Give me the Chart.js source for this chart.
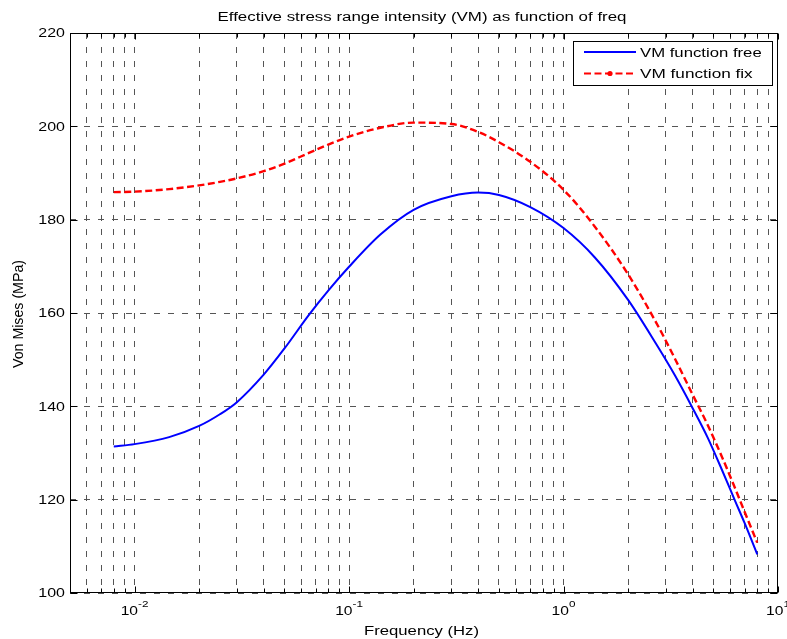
<!DOCTYPE html>
<html>
<head>
<meta charset="utf-8">
<script src="https://cdn.jsdelivr.net/npm/chart.js@4/dist/chart.umd.min.js"></script>
<style>
  html, body { margin: 0; padding: 0; background: #fff; }
  #wrap { width: 787px; height: 639px; position: relative; }
</style>
</head>
<body>
<div id="wrap"><canvas id="c" width="787" height="639"></canvas></div>
<script>
// ---- data ----
const freq   = [0.008, 0.01, 0.0145, 0.02, 0.025, 0.03, 0.04, 0.05, 0.065, 0.08, 0.1, 0.14, 0.2, 0.3, 0.4, 0.5, 0.7, 1, 1.4, 2, 2.7, 3.3, 4, 4.7, 5.5, 6.3, 7, 8];
const vmFree = [131.4, 131.9, 133.4, 135.8, 138.3, 140.9, 146.8, 152.4, 159.6, 164.8, 169.9, 176.8, 182.1, 185.0, 185.8, 185.3, 182.7, 178.2, 171.9, 162.8, 153.4, 146.7, 139.6, 133.3, 126.2, 119.8, 114.9, 108.3];
const vmFix  = [185.9, 186.0, 186.55, 187.35, 188.1, 188.85, 190.4, 192.0, 194.3, 196.1, 197.8, 199.7, 200.8, 200.5, 198.8, 196.6, 192.4, 186.4, 178.5, 168.3, 158.0, 150.3, 142.5, 136.0, 129.0, 122.5, 117.3, 110.8];

const xGrid = [0.006,0.007,0.008,0.009,0.01,0.02,0.03,0.04,0.05,0.06,0.07,0.08,0.09,0.1,0.2,0.3,0.4,0.5,0.6,0.7,0.8,0.9,1,2,3,4,5,6,7,8,9];
const xMajor = [0.01, 0.1, 1, 10];
const xMajorExp = ['-2', '-1', '0', '1'];
const yTicks = [100, 120, 140, 160, 180, 200, 220];
const seriesNames = ['VM function free', 'VM function fix'];

const FONT = '"Liberation Sans", Arial, Helvetica, sans-serif';

function stretchedText(ctx, txt, x, y, size, align, targetW, sxDefault) {
  ctx.save();
  ctx.font = size + 'px ' + FONT;
  const w = ctx.measureText(txt).width;
  const sx = targetW ? targetW / w : (sxDefault || 1.35);
  ctx.translate(x, y);
  ctx.scale(sx, 1);
  ctx.textAlign = align;
  ctx.textBaseline = 'alphabetic';
  ctx.fillStyle = '#000';
  ctx.fillText(txt, 0, 0);
  ctx.restore();
  return w * sx;
}

const matlabDecor = {
  id: 'matlabDecor',
  afterDraw(chart) {
    const ctx = chart.ctx;
    const a = chart.chartArea;
    const xs = chart.scales.x, ys = chart.scales.y;
    const L = Math.round(a.left) + 0.5, R = Math.round(a.right) - 0.5;
    const T = Math.round(a.top) + 0.5, B = Math.round(a.bottom) - 0.5;

    ctx.save();
    ctx.strokeStyle = '#000';
    ctx.lineWidth = 1;
    ctx.setLineDash([]);
    // ticks (inward)
    ctx.beginPath();
    xGrid.concat([10]).forEach(v => {
      const px = Math.round(xs.getPixelForValue(v)) + 0.5;
      const len = xMajor.includes(v) ? 6 : 4;
      ctx.moveTo(px, B); ctx.lineTo(px, B - len);
      ctx.moveTo(px, T); ctx.lineTo(px, T + len);
    });
    yTicks.forEach(v => {
      const py = Math.round(ys.getPixelForValue(v)) + 0.5;
      ctx.moveTo(L, py); ctx.lineTo(L + 7, py);
      ctx.moveTo(R, py); ctx.lineTo(R - 7, py);
    });
    ctx.stroke();
    // axes box
    ctx.strokeRect(L, T, R - L, B - T);
    ctx.restore();

    // y tick labels
    yTicks.forEach(v => {
      const py = ys.getPixelForValue(v);
      stretchedText(ctx, String(v), a.left - 5, py + 4.3, 12, 'right', null, 1.33);
    });
    // x tick labels (10^n)
    xMajor.forEach((v, i) => {
      const px = xs.getPixelForValue(v);
      ctx.save();
      ctx.font = '12px ' + FONT;
      const w1 = ctx.measureText('10').width * 1.3;
      ctx.font = '9px ' + FONT;
      const w2 = ctx.measureText(xMajorExp[i]).width * 1.3;
      ctx.restore();
      const x0 = px - (w1 + w2) / 2;
      stretchedText(ctx, '10', x0, 614.5, 12, 'left', null, 1.3);
      stretchedText(ctx, xMajorExp[i], x0 + w1, 607, 9, 'left', null, 1.3);
    });

    // title
    stretchedText(ctx, 'Effective stress range intensity (VM) as function of freq', 422, 21, 12.5, 'center', 409);
    // x axis title
    stretchedText(ctx, 'Frequency (Hz)', 421.5, 635, 12.5, 'center', 115);
    // y axis title (rotated)
    ctx.save();
    ctx.translate(23, 314);
    ctx.scale(1.15, 1);
    ctx.rotate(-Math.PI / 2);
    ctx.font = '13px ' + FONT;
    const wy = ctx.measureText('Von Mises (MPa)').width;
    ctx.scale(108 / wy, 1);
    ctx.textAlign = 'center';
    ctx.fillStyle = '#000';
    ctx.fillText('Von Mises (MPa)', 0, 0);
    ctx.restore();

    // legend
    ctx.save();
    const bx = 573.5, by = 41.5, bw = 199, bh = 44;
    ctx.fillStyle = '#fff';
    ctx.fillRect(bx, by, bw, bh);
    ctx.strokeStyle = '#000';
    ctx.lineWidth = 1;
    ctx.strokeRect(bx, by, bw, bh);
    ctx.strokeStyle = '#0000ff';
    ctx.lineWidth = 2;
    ctx.beginPath(); ctx.moveTo(584, 52); ctx.lineTo(636, 52); ctx.stroke();
    ctx.strokeStyle = '#ff0000';
    ctx.setLineDash([7, 3.5]);
    ctx.beginPath(); ctx.moveTo(584, 73.5); ctx.lineTo(636, 73.5); ctx.stroke();
    ctx.setLineDash([]);
    ctx.fillStyle = '#ff0000';
    ctx.beginPath(); ctx.arc(610, 73.5, 2.6, 0, Math.PI * 2); ctx.fill();
    ctx.restore();
    stretchedText(ctx, seriesNames[0], 640, 56.5, 12.5, 'left', 121.7);
    stretchedText(ctx, seriesNames[1], 640, 78, 12.5, 'left', 112.7);
  }
};

new Chart(document.getElementById('c'), {
  type: 'line',
  data: {
    datasets: [
      {
        label: seriesNames[0],
        data: freq.map((f, i) => ({ x: f, y: vmFree[i] })),
        borderColor: '#0000ff',
        borderWidth: 2,
        pointRadius: 0,
        cubicInterpolationMode: 'monotone',
        fill: false
      },
      {
        label: seriesNames[1],
        data: freq.map((f, i) => ({ x: f, y: vmFix[i] })),
        borderColor: '#ff0000',
        borderWidth: 2.4,
        borderDash: [7, 3.5],
        pointRadius: 0,
        cubicInterpolationMode: 'monotone',
        fill: false
      }
    ]
  },
  options: {
    responsive: false,
    animation: false,
    devicePixelRatio: 1,
    layout: { padding: { left: 0, right: 9, top: 33, bottom: 0 } },
    plugins: { legend: { display: false }, title: { display: false }, tooltip: { enabled: false } },
    scales: {
      x: {
        type: 'logarithmic',
        min: 0.005,
        max: 10,
        afterBuildTicks: (scale) => { scale.ticks = xGrid.map(v => ({ value: v })); },
        afterFit: (scale) => { scale.height = 46; },
        ticks: { display: false },
        grid: { color: '#555', lineWidth: 1, drawTicks: false },
        border: { display: false, dash: [6, 8] }
      },
      y: {
        type: 'linear',
        min: 100,
        max: 220,
        afterBuildTicks: (scale) => { scale.ticks = yTicks.map(v => ({ value: v })); },
        afterFit: (scale) => { scale.width = 70; },
        ticks: { display: false },
        grid: { color: '#555', lineWidth: 1, drawTicks: false },
        border: { display: false, dash: [6, 8] }
      }
    }
  },
  plugins: [matlabDecor]
});
</script>
</body>
</html>
